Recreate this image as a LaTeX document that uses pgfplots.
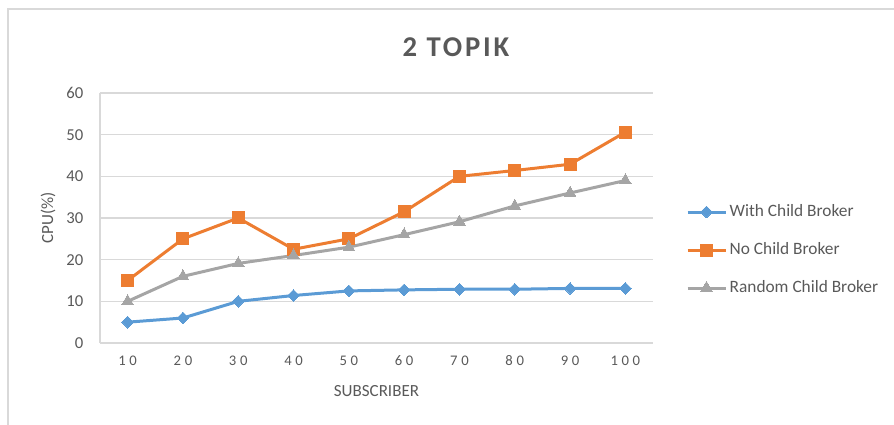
\documentclass[border=0pt]{standalone}
\usepackage{pgfplots}
\pgfplotsset{compat=1.18}
\usepackage{fontspec}
\setmainfont{Carlito}
\newfontfamily\xtickfont[LetterSpace=25]{Carlito}
\newfontfamily\titlefont[LetterSpace=10]{Carlito}
\definecolor{cblue}{HTML}{5B9BD5}
\definecolor{corange}{HTML}{ED7D31}
\definecolor{cgray}{HTML}{A5A5A5}
\definecolor{ctext}{HTML}{595959}
\definecolor{cgrid}{HTML}{D9D9D9}
\begin{document}
\begin{tikzpicture}
\path[use as bounding box] (0,0) rectangle (670.5pt,318.75pt);
\draw[cgrid, line width=1pt] (6pt,0) -- (6pt,312pt) -- (670.5pt,312pt);
\node[text=ctext, font=\fontsize{21.5}{25}\titlefont\bfseries] at (342pt,283.5pt) {2 TOPIK};
\begin{axis}[
  at={(75pt,61.5pt)}, anchor=south west,
  width=414.75pt, height=187.5pt, scale only axis,
  xmin=-0.5, xmax=9.5, ymin=0, ymax=60,
  xtick={0,...,9}, xticklabels={10,20,30,40,50,60,70,80,90,100},
  ytick={0,10,...,60},
  major tick length=0pt,
  axis x line*=bottom, axis y line*=left,
  axis line style={draw=cgrid, line width=1pt, -},
  ymajorgrids, grid style={draw=cgrid, line width=1pt},
  /pgf/number format/assume math mode=true,
  xticklabel style={font=\fontsize{11}{13}\xtickfont, text=ctext, yshift=-6pt},
  yticklabel style={font=\fontsize{12.5}{15}\selectfont, text=ctext, xshift=-9pt},
  xlabel={SUBSCRIBER}, ylabel={CPU(\%)},
  every axis x label/.style={at={(rel axis cs:0.5,0)}, anchor=center, yshift=-36pt, font=\fontsize{12.75}{15}\selectfont, text=ctext},
  every axis y label/.style={at={(rel axis cs:0,0.5)}, xshift=-39pt, anchor=center, rotate=90, font=\fontsize{12.75}{15}\selectfont, text=ctext},
  legend style={at={(rel axis cs:1.052,0.372)}, anchor=west, draw=none, fill=none,
    font=\fontsize{13}{15}\selectfont, text=ctext, row sep=12.5pt,
    nodes={inner sep=2pt, text height=9pt, text depth=3pt}},
  legend cell align=left,
  legend image code/.code={\draw[mark repeat=2,mark phase=2] plot coordinates {(0pt,0pt)(14.25pt,0pt)(28.5pt,0pt)};},
  every axis plot/.append style={line width=2.25pt},
]
\addplot[color=cblue, mark=square*, mark size=3.1pt, mark options={rotate=45, line width=0pt}]
  coordinates {(0,5)(1,6)(2,10)(3,11.4)(4,12.5)(5,12.75)(6,12.9)(7,12.9)(8,13.1)(9,13.1)};
\addlegendentry{With Child Broker}
\addplot[color=corange, mark=square*, mark size=4.5pt, mark options={line width=0pt}]
  coordinates {(0,15)(1,25)(2,30)(3,22.5)(4,25)(5,31.5)(6,40)(7,41.4)(8,42.9)(9,50.6)};
\addlegendentry{No Child Broker}
\addplot[color=cgray, mark=triangle*, mark size=5pt, mark options={line width=0pt}]
  coordinates {(0,10)(1,16)(2,19.1)(3,21)(4,23)(5,26)(6,29.1)(7,32.9)(8,36)(9,39)};
\addlegendentry{Random Child Broker}
\end{axis}
\end{tikzpicture}
\end{document}
